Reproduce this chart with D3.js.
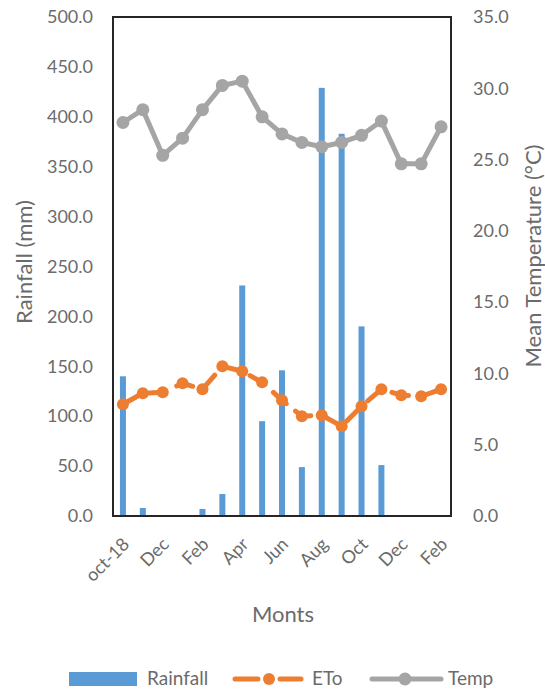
<!DOCTYPE html>
<html><head><meta charset="utf-8">
<script src="https://cdn.jsdelivr.net/npm/d3@7/dist/d3.min.js"></script>
<style>
html,body{margin:0;padding:0;background:#fff;}
svg{display:block;font-family:Lato,"Open Sans",sans-serif;}
</style></head>
<body>
<script>
const months = ["oct-18","Nov","Dec","Jan","Feb","Mar","Apr","May","Jun","Jul","Aug","Sep","Oct","Nov","Dec","Jan","Feb"];
const rainfall = [140, 8, 0, 0, 7, 22, 231, 95, 146, 49, 429, 383, 190, 51, 0, 0, 0];
const eto = [112, 123, 124, 133, 127, 150, 145, 134, 116, 100, 101, 90, 110, 127, 121, 120, 127];
const temp = [27.6, 28.5, 25.3, 26.5, 28.5, 30.2, 30.5, 28.0, 26.8, 26.2, 25.9, 26.2, 26.7, 27.7, 24.7, 24.7, 27.3];
const leftTicks = [0,50,100,150,200,250,300,350,400,450,500];
const rightTicks = [0,5,10,15,20,25,30,35];

const W = 545, H = 689;
const m = {left:113, right:451, top:17, bottom:516};
const txt = "#6b6b6b";

const svg = d3.select("body").append("svg").attr("width",W).attr("height",H);

const idx = months.map((d,i)=>i);
const x = d3.scaleBand().domain(idx).range([m.left, m.right]).paddingInner(0).paddingOuter(0);
const yL = d3.scaleLinear().domain([0,500]).range([m.bottom, m.top]);
const yR = d3.scaleLinear().domain([0,35]).range([m.bottom, m.top]);
const cx = i => x(i) + x.bandwidth()/2;
const barW = 6;

// bars
svg.append("g").selectAll("rect").data(rainfall).join("rect")
  .attr("x",(d,i)=>cx(i)-barW/2)
  .attr("y",d=>yL(d))
  .attr("width",barW)
  .attr("height",d=>m.bottom-yL(d))
  .attr("fill","#5B9BD5");

// ETo line
const lineL = d3.line().x((d,i)=>cx(i)).y(d=>yL(d));
svg.append("path").datum(eto).attr("d",lineL)
  .attr("fill","none").attr("stroke","#ED7D31").attr("stroke-width",5)
  .attr("stroke-dasharray","17,12").attr("stroke-linecap","round");
svg.append("g").selectAll("circle").data(eto).join("circle")
  .attr("cx",(d,i)=>cx(i)).attr("cy",d=>yL(d)).attr("r",6)
  .attr("fill","#ED7D31");

// Temp line
const lineR = d3.line().x((d,i)=>cx(i)).y(d=>yR(d));
svg.append("path").datum(temp).attr("d",lineR)
  .attr("fill","none").attr("stroke","#A5A5A5").attr("stroke-width",5)
  .attr("stroke-linejoin","round");
svg.append("g").selectAll("circle").data(temp).join("circle")
  .attr("cx",(d,i)=>cx(i)).attr("cy",d=>yR(d)).attr("r",6.5)
  .attr("fill","#A5A5A5");

// frame
svg.append("rect").attr("x",m.left).attr("y",m.top)
  .attr("width",m.right-m.left).attr("height",m.bottom-m.top)
  .attr("fill","none").attr("stroke","#262626").attr("stroke-width",2);

// left axis
const axL = d3.axisLeft(yL).tickValues(leftTicks).tickFormat(d3.format(".1f")).tickSize(0).tickPadding(20);
const gL = svg.append("g").attr("transform",`translate(${m.left},0)`).call(axL);
gL.select(".domain").remove();
gL.selectAll("text").attr("fill",txt).style("font-size","18px").style("font-family","Lato");

// right axis
const axR = d3.axisRight(yR).tickValues(rightTicks).tickFormat(d3.format(".1f")).tickSize(0).tickPadding(22);
const gR = svg.append("g").attr("transform",`translate(${m.right},0)`).call(axR);
gR.select(".domain").remove();
gR.selectAll("text").attr("fill",txt).style("font-size","18px").style("font-family","Lato");

// x labels
const axX = d3.axisBottom(x).tickValues(idx.filter(i=>i%2===0)).tickFormat(i=>months[i]).tickSize(0);
const gX = svg.append("g").attr("transform",`translate(0,${m.bottom})`).call(axX);
gX.select(".domain").remove();
gX.selectAll("text")
  .attr("fill",txt).style("font-size","18px").style("font-family","Lato")
  .attr("text-anchor","end")
  .attr("dy","0.35em")
  .attr("y",0)
  .attr("transform","translate(3,25) rotate(-45)");

// titles
svg.append("text").attr("x",283).attr("y",622).attr("text-anchor","middle")
  .attr("fill",txt).style("font-size","22px").text("Monts");
svg.append("text").attr("transform","translate(32,262) rotate(-90)").attr("text-anchor","middle")
  .attr("fill",txt).style("font-size","22px").text("Rainfall (mm)");
svg.append("text").attr("transform","translate(541,256) rotate(-90)").attr("text-anchor","middle")
  .attr("fill",txt).style("font-size","22px").text("Mean Temperature (°C)");

// legend
const ly = 679;
const lg = svg.append("g");
lg.append("rect").attr("x",69).attr("y",ly-7).attr("width",68).attr("height",14).attr("fill","#5B9BD5");
lg.append("text").attr("x",147).attr("y",ly+6).attr("fill",txt).style("font-size","19px").text("Rainfall");
lg.append("line").attr("x1",235).attr("x2",258).attr("y1",ly).attr("y2",ly)
  .attr("stroke","#ED7D31").attr("stroke-width",5).attr("stroke-linecap","round");
lg.append("line").attr("x1",280).attr("x2",301).attr("y1",ly).attr("y2",ly)
  .attr("stroke","#ED7D31").attr("stroke-width",5).attr("stroke-linecap","round");
lg.append("circle").attr("cx",269).attr("cy",ly).attr("r",6).attr("fill","#ED7D31");
lg.append("text").attr("x",312).attr("y",ly+6).attr("fill",txt).style("font-size","19px").text("ETo");
lg.append("line").attr("x1",372).attr("x2",441).attr("y1",ly).attr("y2",ly)
  .attr("stroke","#A5A5A5").attr("stroke-width",5).attr("stroke-linecap","round");
lg.append("circle").attr("cx",405).attr("cy",ly).attr("r",6.5).attr("fill","#A5A5A5");
lg.append("text").attr("x",448).attr("y",ly+6).attr("fill",txt).style("font-size","19px").text("Temp");
</script>
</body></html>
